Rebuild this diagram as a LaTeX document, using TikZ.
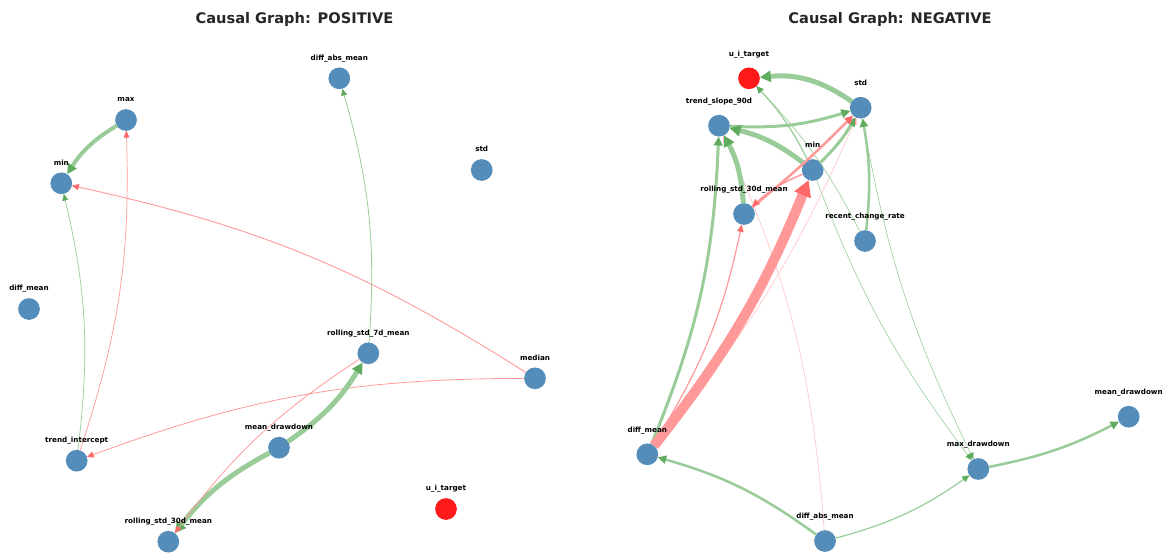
\documentclass[tikz,border=0pt]{standalone}
\usepackage{fontspec}
\setmainfont{DejaVu Sans}
\usetikzlibrary{arrows.meta}
\definecolor{nodeblue}{RGB}{84,140,186}
\definecolor{nodered}{RGB}{255,26,26}
\definecolor{gline}{RGB}{153,204,153}
\definecolor{gtip}{RGB}{95,172,95}
\definecolor{rline}{RGB}{255,153,153}
\definecolor{rtip}{RGB}{255,105,105}
\definecolor{pline}{RGB}{255,200,200}
\definecolor{titlegray}{RGB}{38,38,38}
\tikzset{
  nd/.style={circle, fill=nodeblue, minimum size=21.7pt, inner sep=0pt, outer sep=0pt},
  lb/.style={anchor=base, inner sep=0pt, font=\bfseries\fontsize{7.2}{8}\selectfont},
  ge/.style={draw=gline, line width=#1, -{Triangle[length=6pt 1, width=5pt 1.2, color=gtip]}},
  re/.style={draw=rline, line width=#1, -{Triangle[length=6pt 1, width=5pt 1.2, color=rtip]}},
  pe/.style={draw=pline, line width=#1, -{Triangle[length=6pt 1, width=5pt 1.2, color=rline]}},
  ttl/.style={anchor=base, inner sep=0pt, text=titlegray, font=\bfseries\fontsize{14.6}{17}\selectfont},
}
\begin{document}
\begin{tikzpicture}[x=1pt,y=1pt]
\useasboundingbox (0,0) rectangle (1167,-554);
% titles
\node[ttl] (t1) at (294.5,-23.3) {Causal Graph: POSITIVE};
\node[ttl] (t2) at (890,-23.3) {Causal Graph: NEGATIVE};
% ---------- left graph nodes
\node[nd] (Ldam) at (339.3,-78.3) {};
\node[nd] (Lmax) at (126,-120) {};
\node[nd] (Lmin) at (61.3,-183.3) {};
\node[nd] (Lstd) at (481.7,-170) {};
\node[nd] (Ldm) at (29,-309) {};
\node[nd] (Lr7) at (368.3,-353.3) {};
\node[nd] (Lmed) at (535,-378.3) {};
\node[nd] (Lmd) at (279,-447.7) {};
\node[nd] (Lti) at (76.7,-460.7) {};
\node[nd, fill=nodered] (Lu) at (446,-509) {};
\node[nd] (Lr30) at (168.3,-541.7) {};
% left edges
\draw[ge=4pt] (Lmax) to[bend right=13] (Lmin);
\draw[re=0.9pt] (Lmed) to[bend right=10] (Lmin);
\draw[ge=0.7pt] (Lti) to[bend right=10] (Lmin);
\draw[re=0.7pt] (Lti) to[bend right=10] (Lmax);
\draw[ge=0.8pt] (Lr7) to[bend right=10] (Ldam);
\draw[re=0.8pt] (Lmed) to[bend right=10] (Lti);
\draw[ge=5pt] (Lmd) to[bend right=12] (Lr7);
\draw[ge=5pt] (Lmd) to[bend right=12] (Lr30);
\draw[re=0.8pt] (Lr7) to[bend right=10] (Lr30);
% left labels
\node[lb] (Ldam-l) at (339.3,-60.0) {diff\_abs\_mean};
\node[lb] (Lmax-l) at (126,-101.7) {max};
\node[lb] (Lmin-l) at (61.3,-165.0) {min};
\node[lb] (Lstd-l) at (481.7,-151.7) {std};
\node[lb] (Ldm-l) at (29,-290.7) {diff\_mean};
\node[lb] (Lr7-l) at (368.3,-335.0) {rolling\_std\_7d\_mean};
\node[lb] (Lmed-l) at (535,-360.0) {median};
\node[lb] (Lmd-l) at (279,-429.4) {mean\_drawdown};
\node[lb] (Lti-l) at (76.7,-442.4) {trend\_intercept};
\node[lb] (Lu-l) at (446,-490.7) {u\_i\_target};
\node[lb] (Lr30-l) at (168.3,-523.4) {rolling\_std\_30d\_mean};
% ---------- right graph nodes
\node[nd, fill=nodered] (Ru) at (749,-78.3) {};
\node[nd] (Rstd) at (860.7,-107.7) {};
\node[nd] (Rts) at (719,-125.7) {};
\node[nd] (Rmin) at (812.7,-170) {};
\node[nd] (Rr30) at (744,-214) {};
\node[nd] (Rrcr) at (865,-241) {};
\node[nd] (Rmeand) at (1128.7,-416.7) {};
\node[nd] (Rdm) at (647.3,-454.3) {};
\node[nd] (Rmaxd) at (978.3,-469) {};
\node[nd] (Rdam) at (825,-541) {};
% right edges
\draw[pe=0.7pt] (Rdm) to[bend right=8] (Rstd);
\draw[pe=0.7pt] (Rdam) to[bend right=10] (Rts);
\draw[ge=0.6pt] (Rrcr) to[bend right=8] (Ru);
\draw[ge=0.6pt] (Rmin) to[bend right=8] (Rmaxd);
\draw[ge=0.6pt] (Rstd) to[bend right=8] (Rmaxd);
\draw[ge=1.2pt] (Rmin) to[bend right=8] (Ru);
\draw[ge=5pt] (Rstd) to[bend right=20] (Ru);
\draw[ge=3pt] (Rts) to[bend right=10] (Rstd);
\draw[ge=5pt] (Rmin) to[bend right=12] (Rts);
\draw[ge=3pt] (Rmin) to[bend right=8] (Rstd);
\draw[re=2.5pt] (Rr30) to[bend right=3] (Rstd);
\draw[re=1.5pt] (Rmin) to[bend right=10] (Rr30);
\draw[re=1.2pt] (Rdm) to[bend right=10] (Rr30);
\draw[ge=3pt] (Rdm) to[bend right=10] (Rts);
\draw[ge=5pt] (Rr30) to[bend right=12] (Rts);
\draw[re=10pt] (Rdm) to[bend right=8] (Rmin);
\draw[ge=2.5pt] (Rrcr) to[bend right=8] (Rstd);
\draw[ge=2.5pt] (Rdam) to[bend right=10] (Rdm);
\draw[ge=1.2pt] (Rdam) to[bend right=10] (Rmaxd);
\draw[ge=2.5pt] (Rmaxd) to[bend right=8] (Rmeand);
% right labels
\node[lb] (Ru-l) at (749,-56.0) {u\_i\_target};
\node[lb] (Rstd-l) at (860.7,-85.4) {std};
\node[lb] (Rts-l) at (719,-103.4) {trend\_slope\_90d};
\node[lb] (Rmin-l) at (812.7,-147.7) {min};
\node[lb] (Rr30-l) at (744,-191.7) {rolling\_std\_30d\_mean};
\node[lb] (Rrcr-l) at (865,-218.7) {recent\_change\_rate};
\node[lb] (Rmeand-l) at (1128.7,-394.4) {mean\_drawdown};
\node[lb] (Rdm-l) at (647.3,-432.0) {diff\_mean};
\node[lb] (Rmaxd-l) at (978.3,-446.7) {max\_drawdown};
\node[lb] (Rdam-l) at (825,-518.7) {diff\_abs\_mean};
\end{tikzpicture}
\end{document}
